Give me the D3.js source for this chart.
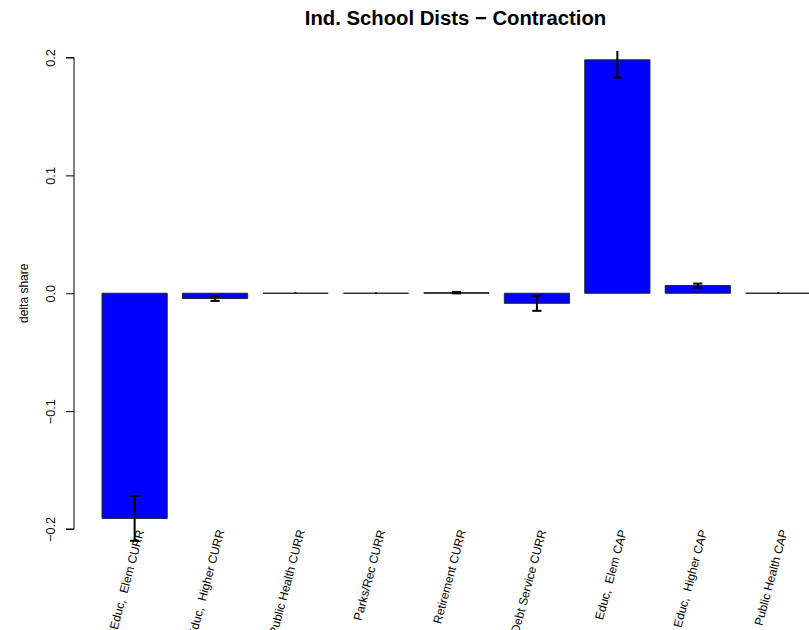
<!DOCTYPE html>
<html>
<head>
<meta charset="utf-8">
<script src="https://cdn.jsdelivr.net/npm/d3@7"></script>
<style>
  html, body { margin: 0; padding: 0; background: #fff; }
  svg { display: block; font-family: "Liberation Sans", Arial, Helvetica, sans-serif; }
  text { white-space: pre; }
</style>
</head>
<body>
<svg id="chart" width="809" height="630"></svg>
<script>
// Budget categories and the change in expenditure share, with error half-widths
const categories = [
  "Educ,  Elem CURR", "Educ,  Higher CURR", "Public Health CURR", "Parks/Rec CURR",
  "Retirement CURR", "Debt Service CURR", "Educ,  Elem CAP", "Educ,  Higher CAP", "Public Health CAP"
];
const deltaShare = [-0.191, -0.0045, 0.0, 0.0, 0.0005, -0.0085, 0.198, 0.0065, 0.0];
const errHalf    = [0.019, 0.002, 0.0, 0.0, 0.0006, 0.0064, 0.015, 0.0017, 0.0];
const yTicks = [-0.2, -0.1, 0.0, 0.1, 0.2];
const titleText = "Ind. School Dists \u2212 Contraction";
const yLabel = "delta share";

const svg = d3.select("#chart");
const axisX = 74;

const x = d3.scaleBand()
  .domain(categories)
  .range([94.4, 818.5])
  .paddingInner(0.19)
  .paddingOuter(0.095);

const y = d3.scaleLinear().domain([-0.2, 0.2]).range([529, 57.5]);

// clip region for the plotting area
svg.append("defs").append("clipPath").attr("id", "plotclip")
  .append("rect").attr("x", axisX).attr("y", 51).attr("width", 760).attr("height", 520);

const plot = svg.append("g").attr("clip-path", "url(#plotclip)");

// bars (paths, so zero-height bars still show their outline)
plot.selectAll("path.bar").data(categories).join("path")
  .attr("class", "bar")
  .attr("d", (d, i) => {
    const x0 = x(d), x1 = x(d) + x.bandwidth();
    const y0 = y(0), y1 = y(deltaShare[i]);
    return `M${x0},${y0}H${x1}V${y1}H${x0}Z`;
  })
  .attr("fill", "#0000ff")
  .attr("stroke", "#222")
  .attr("stroke-width", 1);

// error bars
const cx = d => x(d) + x.bandwidth() / 2;
const eb = plot.selectAll("g.err").data(categories).join("g").attr("class", "err")
  .attr("stroke", "#000").attr("stroke-width", 2);
eb.append("line")
  .attr("x1", cx).attr("x2", cx)
  .attr("y1", (d, i) => y(deltaShare[i] - errHalf[i]))
  .attr("y2", (d, i) => y(deltaShare[i] + errHalf[i]) - (errHalf[i] === 0 ? 1 : 0));
eb.filter((d, i) => errHalf[i] > 0).each(function(d) {
  const i = categories.indexOf(d);
  const g = d3.select(this);
  [deltaShare[i] - errHalf[i], deltaShare[i] + errHalf[i]].forEach(v => {
    g.append("line")
      .attr("x1", cx(d) - 4.6).attr("x2", cx(d) + 4.6)
      .attr("y1", y(v)).attr("y2", y(v));
  });
});

// y axis
const yAxis = d3.axisLeft(y).tickValues(yTicks).tickSize(8)
  .tickFormat(d => d3.format(".1f")(d).replace("-", "\u2212"));
const ga = svg.append("g").attr("transform", `translate(${axisX},0)`).call(yAxis);
ga.select(".domain").attr("stroke", "#000").attr("d", `M-8,${y(-0.2)}H0V${y(0.2)}H-8`);
ga.selectAll(".tick line").attr("stroke", "#000");
ga.selectAll(".tick text")
  .attr("font-size", 12.7)
  .attr("fill", "#000")
  .attr("x", null).attr("dy", null)
  .attr("text-anchor", "middle")
  .attr("transform", "translate(-19.5,0) rotate(-90)");

// y label
svg.append("text")
  .attr("transform", `translate(28,${y(0)}) rotate(-90)`)
  .attr("text-anchor", "middle")
  .attr("font-size", 12)
  .text(yLabel);

// title
svg.append("text")
  .attr("x", 455.5).attr("y", 25)
  .attr("text-anchor", "middle")
  .attr("font-size", 20.3).attr("font-weight", "bold")
  .text(titleText);

// rotated category labels
svg.selectAll("text.cat").data(categories).join("text")
  .attr("class", "cat")
  .attr("transform", d => `translate(${cx(d) + 9.5},531) rotate(-75)`)
  .attr("text-anchor", "end")
  .attr("font-size", 12)
  .text(d => d);
</script>
</body>
</html>
